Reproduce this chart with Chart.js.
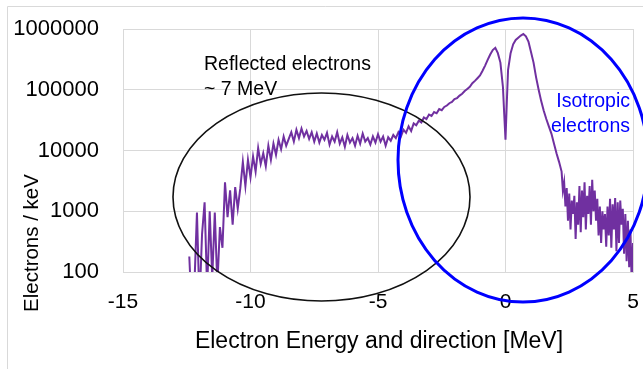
<!DOCTYPE html>
<html><head><meta charset="utf-8">
<script src="https://cdn.jsdelivr.net/npm/chart.js@4/dist/chart.umd.min.js"></script>
<style>html,body{margin:0;padding:0;background:#fff;}canvas{display:block;}</style>
</head><body>
<canvas id="c" width="643" height="369"></canvas>
<script>
// Electron energy (MeV, negative = reflected direction)
const energy = [
  -12.4,-12.3,-12.2,-12.1,-12.0,-11.9,-11.8,-11.7,-11.6,-11.5,-11.4,-11.3,-11.2,-11.1,-11.0,-10.9,-10.8,-10.7,-10.6,-10.5,-10.4,-10.3,-10.2,-10.1,-10.0,
  -9.9,-9.8,-9.7,-9.6,-9.5,-9.4,-9.3,-9.2,-9.1,-9.0,
  -8.9,-8.8,-8.7,-8.6,-8.5,-8.4,-8.3,-8.2,-8.1,-8.0,
  -7.9,-7.8,-7.7,-7.6,-7.5,-7.4,-7.3,-7.2,-7.1,-7.0,
  -6.9,-6.8,-6.7,-6.6,-6.5,-6.4,-6.3,-6.2,-6.1,-6.0,
  -5.9,-5.8,-5.7,-5.6,-5.5,-5.4,-5.3,-5.2,-5.1,-5.0,
  -4.9,-4.8,-4.7,-4.6,-4.5,-4.4,-4.3,-4.2,-4.1,-4.0,
  -3.9,-3.8,-3.7,-3.6,-3.5,-3.4,-3.3,-3.2,-3.1,-3.0,
  -2.9,-2.8,-2.7,-2.6,-2.5,-2.4,-2.3,-2.2,-2.1,-2.0,
  -1.9,-1.8,-1.7,-1.6,-1.5,-1.4,-1.3,-1.2,-1.1,-1.0,
  -0.9,-0.8,-0.7,-0.6,-0.5,-0.4,-0.3,-0.2,-0.1,-0.05,
  0.0,0.05,
  0.1,0.2,0.3,0.4,0.5,0.6,0.7,0.8,0.9,1.0,
  1.1,1.2,1.3,1.4,1.5,1.6,1.7,1.8,1.9,2.0,
  2.1,2.2,
  2.25,2.3,2.35,2.4,2.45,2.5,2.55,2.6,2.65,2.7,2.75,2.8,2.85,2.9,2.95,3.0,
  3.05,3.1,3.15,3.2,3.25,3.3,3.35,3.4,3.45,3.5,3.55,3.6,3.65,3.7,3.75,3.8,
  3.85,3.9,3.95,4.0,4.05,4.1,4.15,4.2,4.25,4.3,4.35,4.4,4.45,4.5,4.55,4.6,
  4.65,4.7,4.75,4.8,4.85,4.9,4.95,5.0
];
// Electrons per keV
const counts = [
  180,20,60,950,30,420,1400,50,1000,80,950,60,550,250,3000,800,2200,600,2500,1100,2400,6500,2600,7000,3600,
  8000,4500,11000,6000,9000,5500,12000,7000,13000,8500,
  15000,10500,17000,12000,15500,20000,14000,22000,16000,23000,
  17000,21000,15500,20000,14000,19000,13500,18000,15000,19500,
  12500,17000,14000,20000,13000,16500,11500,18000,13500,16000,
  12000,17500,13000,19000,14000,16000,12500,17000,13500,18500,
  14000,17000,12000,16500,14500,18000,16000,20000,17000,22000,
  19500,25000,21000,28000,26000,31000,29000,35000,33000,39000,
  37000,43000,41000,48000,46000,52000,55000,60000,63000,70000,
  73000,80000,86000,95000,103000,112000,128000,140000,155000,172000,
  205000,250000,310000,380000,450000,490000,400000,280000,110000,40000,
  15000,60000,
  210000,400000,560000,660000,720000,780000,830000,760000,620000,420000,
  280000,160000,100000,65000,45000,33000,25000,19000,13000,9000,
  6500,4500,
  2200,3000,1200,2400,700,1950,500,1500,900,1800,350,1400,600,2600,450,2200,
  800,3000,500,1800,900,2600,600,3300,1000,2200,700,1600,400,1200,300,1000,
  500,900,260,1200,400,1600,250,1300,500,1650,220,1400,300,1500,600,1100,
  200,900,150,700,120,500,60,300
];
const xTicks = [-15, -10, -5, 0, 5];
const yTicks = [100, 1000, 10000, 100000, 1000000];

const xTitle = 'Electron Energy and direction [MeV]';
const yTitle = 'Electrons / keV';
const noteLeft = ['Reflected electrons', '~ 7 MeV'];
const noteRight = ['Isotropic', 'electrons'];

const FONT = "'Liberation Sans', Arial, sans-serif";

const annot = {
  id: 'annot',
  beforeDraw(chart) {
    const ctx = chart.ctx;
    ctx.save();
    ctx.strokeStyle = '#d9d9d9';
    ctx.lineWidth = 1;
    ctx.beginPath();
    ctx.moveTo(7.5, 369);
    ctx.lineTo(7.5, 6.5);
    ctx.lineTo(643, 6.5);
    ctx.stroke();
    ctx.restore();
  },
  afterDatasetsDraw(chart) {
    const ctx = chart.ctx;
    ctx.save();
    // black ellipse
    ctx.strokeStyle = '#111';
    ctx.lineWidth = 1.6;
    ctx.beginPath();
    ctx.ellipse(321.5, 197, 148.5, 104, 0, 0, Math.PI * 2);
    ctx.stroke();
    // blue ellipse
    ctx.strokeStyle = '#0000ff';
    ctx.lineWidth = 3;
    ctx.beginPath();
    ctx.ellipse(523, 160, 125, 142, 0, 0, Math.PI * 2);
    ctx.stroke();
    // notes
    ctx.fillStyle = '#000';
    ctx.font = '19.5px ' + FONT;
    ctx.textAlign = 'left';
    ctx.textBaseline = 'alphabetic';
    ctx.fillText(noteLeft[0], 204, 70);
    ctx.fillText(noteLeft[1], 204, 95);
    ctx.fillStyle = '#0000ff';
    ctx.textAlign = 'right';
    ctx.fillText(noteRight[0], 630, 107);
    ctx.fillText(noteRight[1], 630, 132);
    // axis titles
    ctx.fillStyle = '#000';
    ctx.textAlign = 'center';
    ctx.font = '23px ' + FONT;
    ctx.fillText(xTitle, 379, 348);
    ctx.translate(38, 243);
    ctx.rotate(-Math.PI / 2);
    ctx.font = '20.5px ' + FONT;
    ctx.fillText(yTitle, 0, 0);
    ctx.restore();
  }
};

new Chart(document.getElementById('c'), {
  type: 'line',
  data: {
    datasets: [{
      data: energy.map((x, i) => ({ x: x, y: counts[i] })),
      borderColor: '#7030a0',
      borderWidth: 2,
      pointRadius: 0,
      tension: 0,
      fill: false
    }]
  },
  options: {
    responsive: false,
    animation: false,
    devicePixelRatio: 1,
    layout: { padding: { left: 0, top: 29, right: 10, bottom: 0 } },
    plugins: { legend: { display: false }, tooltip: { enabled: false } },
    scales: {
      x: {
        type: 'linear', min: -15, max: 5,
        afterBuildTicks: s => { s.ticks = xTicks.map(v => ({ value: v })); },
        afterFit: s => { s.height = 97; s.paddingLeft = 0; s.paddingRight = 0; },
        grid: { color: '#d9d9d9', drawTicks: false },
        border: { color: '#d9d9d9' },
        ticks: { padding: 18, color: '#000', font: { family: FONT, size: 21 }, callback: v => String(v), maxRotation: 0 }
      },
      y: {
        type: 'logarithmic', min: 100, max: 1000000,
        afterBuildTicks: s => { s.ticks = yTicks.map(v => ({ value: v })); },
        afterFit: s => { s.width = 123; s.paddingTop = 0; s.paddingBottom = 0; },
        grid: { color: '#d9d9d9', drawTicks: false },
        border: { color: '#d9d9d9' },
        ticks: { padding: 24, color: '#000', font: { family: FONT, size: 22 }, callback: v => String(v) }
      }
    }
  },
  plugins: [annot]
});
</script>
</body></html>
